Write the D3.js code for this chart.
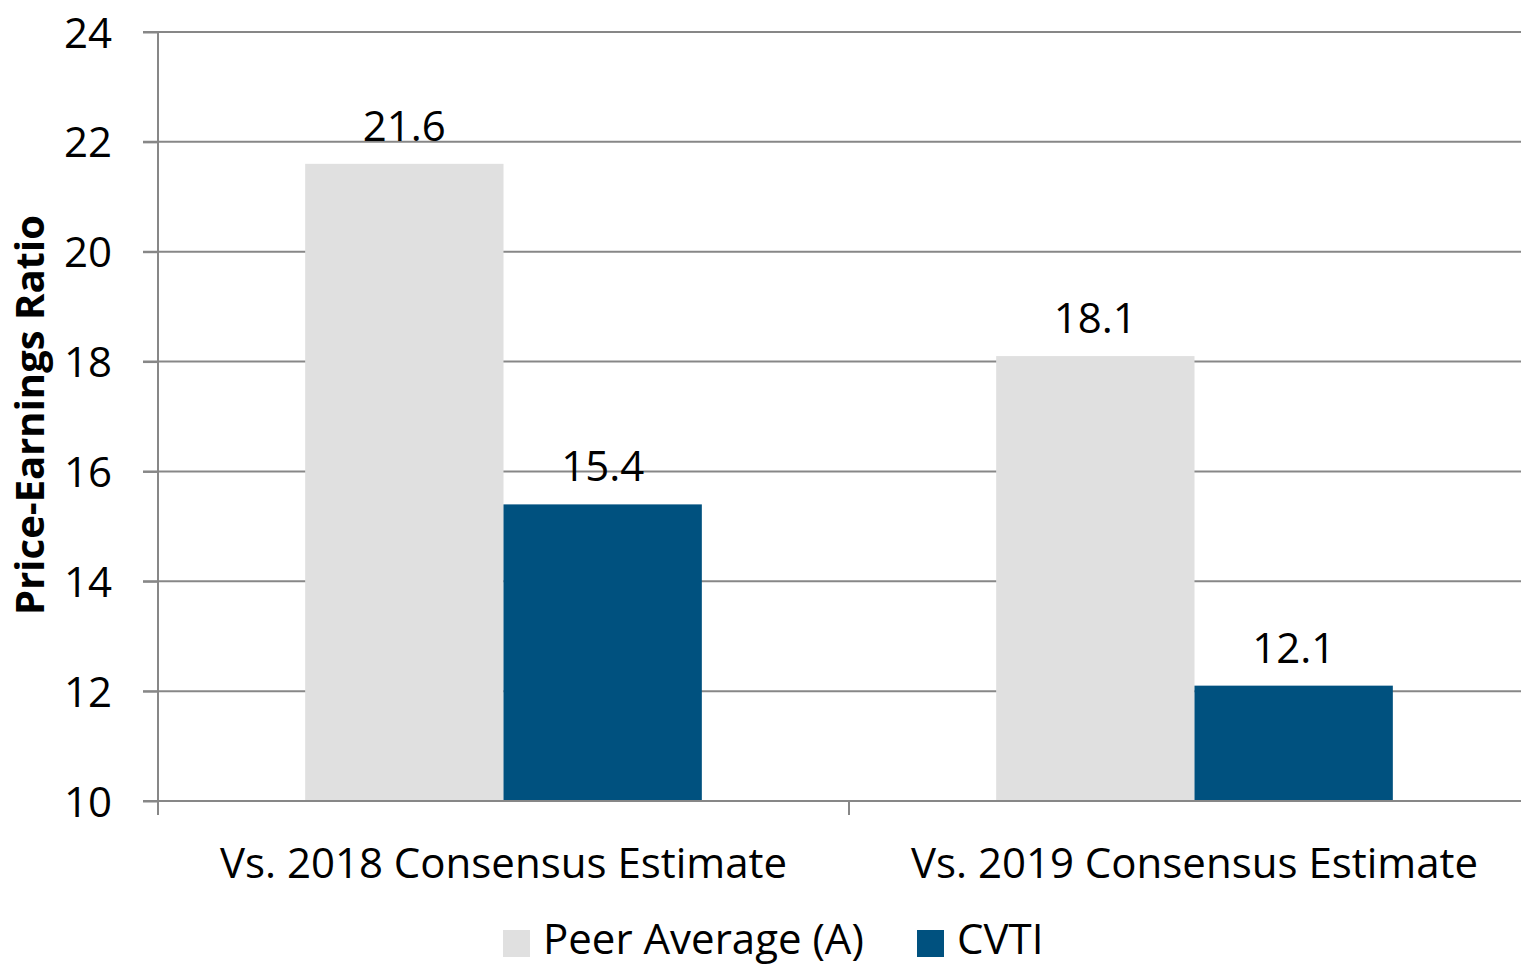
<!DOCTYPE html>
<html><head><meta charset="utf-8">
<script src="https://cdn.jsdelivr.net/npm/d3@7"></script>
<style>body{margin:0;background:#fff}svg{display:block}text{font-family:"Open Sans",sans-serif;fill:#000}</style>
</head><body><svg id="c" width="1521" height="966"></svg>
<script>
const categories = ["Vs. 2018 Consensus Estimate", "Vs. 2019 Consensus Estimate"];
const seriesNames = ["Peer Average (A)", "CVTI"];
const peerValues = [21.6, 18.1];
const cvtiValues = [15.4, 12.1];
const yTicks = [10, 12, 14, 16, 18, 20, 22, 24];
const colors = ["#E0E0E0", "#00517F"];
const yTitle = "Price-Earnings Ratio";

const svg = d3.select("#c");
const L = 158, R = 1540, T = 32, B = 801, W = 1521;
const FS = 42;
const y = d3.scaleLinear().domain([10, 24]).range([B, T]);
const x0 = d3.scaleBand().domain(categories).range([L, R]).paddingInner(0).paddingOuter(0);
const x1 = d3.scaleBand().domain(seriesNames).range([0, x0.bandwidth()]).paddingOuter(0.742).paddingInner(0);
const grid = "#878787";

// gridlines
svg.append("g").selectAll("line").data(yTicks).join("line")
  .attr("x1", L - 15).attr("x2", W).attr("y1", d => y(d)).attr("y2", d => y(d))
  .attr("stroke", grid).attr("stroke-width", 2);

// bars
const series = [peerValues, cvtiValues];
const g = svg.append("g");
categories.forEach((c, i) => {
  seriesNames.forEach((s, j) => {
    const v = series[j][i];
    g.append("rect").attr("x", x0(c) + x1(s)).attr("width", x1.bandwidth())
      .attr("y", y(v)).attr("height", y(10) - y(v)).attr("fill", colors[j]);
    g.append("text").attr("x", x0(c) + x1(s) + x1.bandwidth() / 2).attr("y", y(v) - 23)
      .attr("text-anchor", "middle").attr("font-size", FS).text(v.toFixed(1));
  });
});

// y axis
const yAxis = svg.append("g").attr("transform", `translate(${L},0)`)
  .call(d3.axisLeft(y).tickValues(yTicks).tickSize(15).tickPadding(31).tickFormat(d3.format("d")));
yAxis.select(".domain").remove();
yAxis.selectAll("line").attr("stroke", grid).attr("stroke-width", 2);
yAxis.selectAll("text").attr("font-size", FS).attr("dy", "0.36em").style("font-family", '"Open Sans",sans-serif');
svg.append("line").attr("x1", L).attr("x2", L).attr("y1", T).attr("y2", B + 14).attr("stroke", grid).attr("stroke-width", 2);

// x axis
svg.append("line").attr("x1", L).attr("x2", W).attr("y1", B).attr("y2", B).attr("stroke", grid).attr("stroke-width", 2);
const xBounds = [...categories.map(c => x0(c)), R];
svg.append("g").selectAll("line").data(xBounds).join("line")
  .attr("x1", d => d).attr("x2", d => d).attr("y1", B).attr("y2", B + 14)
  .attr("stroke", grid).attr("stroke-width", 2);
svg.append("g").selectAll("text").data(categories).join("text")
  .attr("x", d => x0(d) + x0.bandwidth() / 2).attr("y", 878)
  .attr("text-anchor", "middle").attr("font-size", FS).text(d => d);

// y title
svg.append("text").attr("transform", "translate(44,415) rotate(-90)")
  .attr("text-anchor", "middle").attr("font-size", 40).attr("font-weight", "bold").text(yTitle);

// legend
const legX = [503, 917];
seriesNames.forEach((s, j) => {
  svg.append("rect").attr("x", legX[j]).attr("y", 930).attr("width", 27).attr("height", 27).attr("fill", colors[j]);
  svg.append("text").attr("x", legX[j] + 40).attr("y", 954).attr("font-size", FS).text(s);
});
</script></body></html>
